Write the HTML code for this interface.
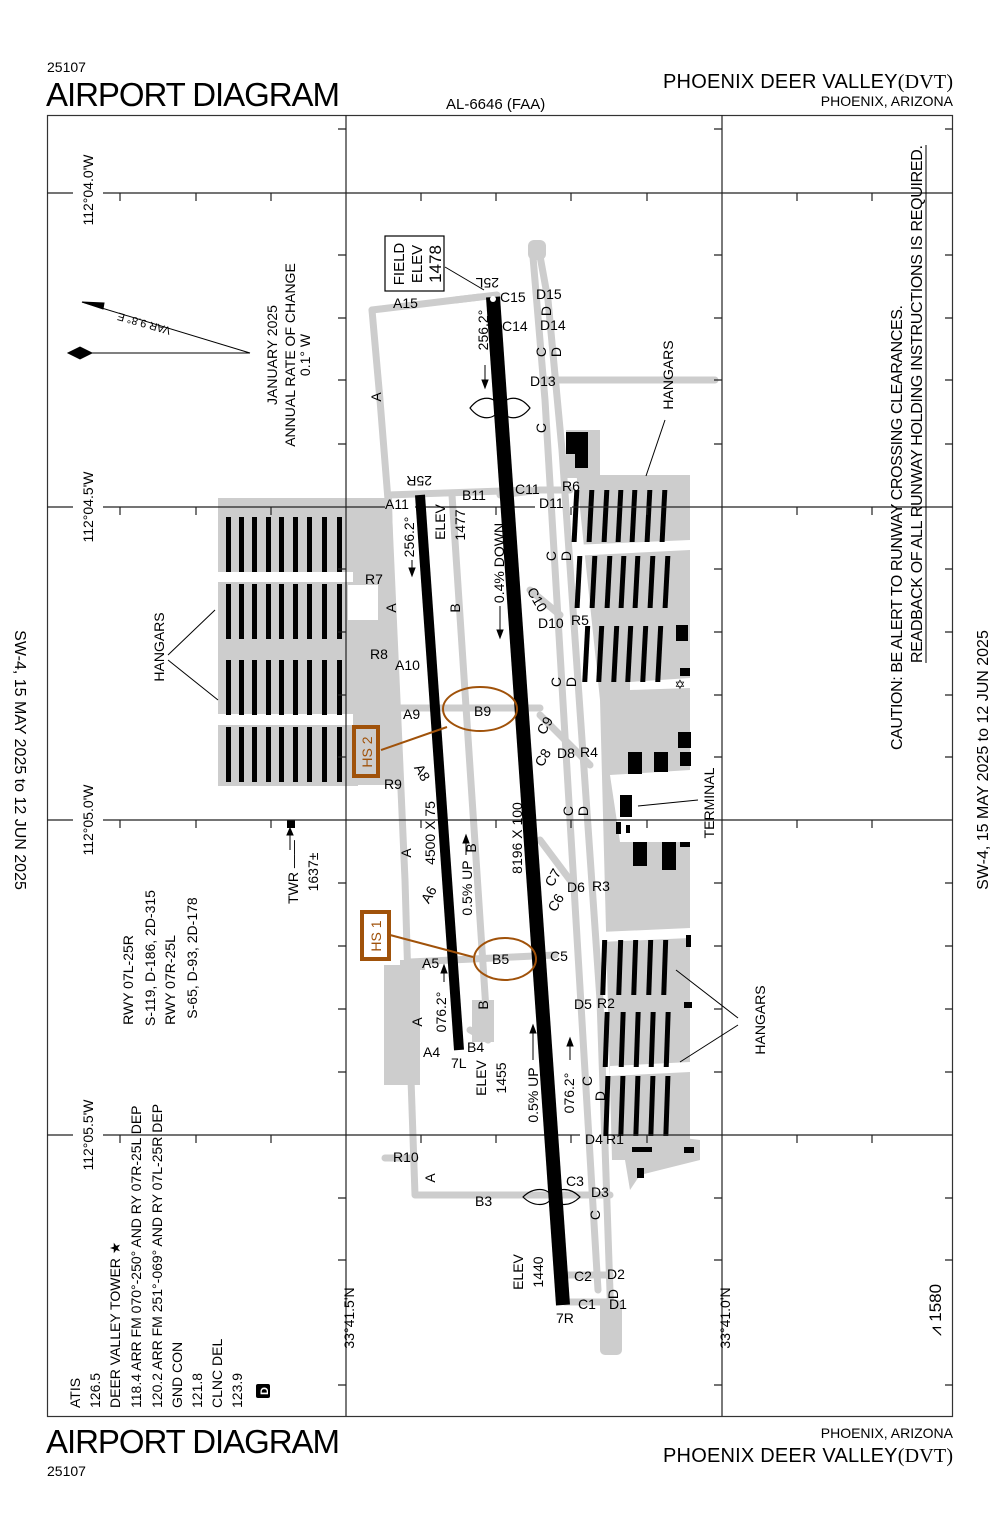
<!DOCTYPE html>
<html><head><meta charset="utf-8"><style>
html,body{margin:0;padding:0;background:#fff}
svg{display:block}
text{font-family:"Liberation Sans",sans-serif;fill:#000}
</style></head><body>
<svg width="1000" height="1533" viewBox="0 0 1000 1533" xmlns="http://www.w3.org/2000/svg">
<!-- headers -->
<text x="47" y="72" font-size="14">25107</text>
<text x="46" y="106" font-size="33" textLength="294">AIRPORT DIAGRAM</text>
<text x="446" y="109" font-size="15">AL-6646 (FAA)</text>
<text x="953" y="88" font-size="20" text-anchor="end" textLength="290">PHOENIX DEER VALLEY<tspan font-family="Liberation Serif">(DVT)</tspan></text>
<text x="953" y="106" font-size="14" text-anchor="end">PHOENIX, ARIZONA</text>
<text x="46" y="1453" font-size="33" textLength="294">AIRPORT DIAGRAM</text>
<text x="47" y="1476" font-size="14">25107</text>
<text x="953" y="1438" font-size="14" text-anchor="end">PHOENIX, ARIZONA</text>
<text x="953" y="1462" font-size="20" text-anchor="end" textLength="290">PHOENIX DEER VALLEY<tspan font-family="Liberation Serif">(DVT)</tspan></text>
<text transform="translate(15,760) rotate(90)" font-size="16" text-anchor="middle">SW-4,  15 MAY 2025  to  12 JUN 2025</text>
<text transform="translate(988,760) rotate(-90)" font-size="16" text-anchor="middle">SW-4,  15 MAY 2025  to  12 JUN 2025</text>

<!-- frame -->
<rect x="47.5" y="115.5" width="905" height="1301" fill="none" stroke="#333" stroke-width="1.2"/>

<!-- gray pavement -->
<g fill="#cdcdcd">
 <rect x="218" y="498" width="140" height="288"/>
 <path d="M345 498 L392 498 L398 785 L345 785Z"/>
 <path d="M572 432 L600 432 L600 475 L690 475 L690 1160 L612 1160 L600 700 Z"/>
 <rect x="566" y="430" width="34" height="48"/>
 <path d="M620 1130 L700 1140 L700 1160 L640 1175 L630 1190Z"/>
 <rect x="384" y="965" width="36" height="120"/>
 <rect x="400" y="960" width="25" height="10"/>
</g>
<g fill="#fff">
 <rect x="218" y="572" width="135" height="10"/>
 <rect x="218" y="714" width="135" height="11"/>
 <rect x="348" y="585" width="30" height="35"/>
 <path d="M572 545 L690 540 L690 550 L572 556Z"/>
 <path d="M630 682 L690 678 L690 688 L630 690Z"/>
 <path d="M610 775 L690 770 L690 842 L620 842Z"/>
 <path d="M600 932 L690 928 L690 938 L600 942Z"/>
 <path d="M610 1066 L690 1062 L690 1072 L610 1076Z"/>
</g>
<g stroke="#cdcdcd" stroke-width="7" fill="none" stroke-linecap="round" stroke-linejoin="round">
 <path d="M372 310 L380 400 L388 500 L397 700 L405 880 L410 1050 L415 1195 L552 1195"/>
 <path d="M372 310 L480 297"/>
 <path d="M455 300 L497 295"/>
 <path d="M452 495 L488 1040"/>
 <path d="M388 495 L530 490"/>
 <path d="M532 245 L545 400 L598 1290"/>
 <path d="M538 245 L548 300 L562 450 L600 1000 L612 1350"/>
 <path d="M545 380 L715 380"/>
 <path d="M397 708 L540 708"/>
 <path d="M410 962 L555 955"/>
 <path d="M560 1195 L610 1195"/>
 <path d="M565 1275 L610 1275"/>
 <path d="M565 1302 L610 1302"/>
 <path d="M385 1158 L415 1158"/>
 <path d="M540 715 L590 765"/>
 <path d="M540 840 L570 880"/>
 <path d="M530 590 L560 615"/>
 <path d="M500 495 L540 490 L570 490"/>
 <path d="M470 1030 L488 1040"/>
</g>
<rect x="600" y="1300" width="22" height="55" rx="5" fill="#cdcdcd"/>
<rect x="528" y="240" width="18" height="20" rx="6" fill="#cdcdcd"/>
<rect x="472" y="1000" width="22" height="42" fill="#cdcdcd"/>

<!-- hangar bars -->
<g fill="#000">
 <g id="lrow">
  <rect x="226" y="517" width="5" height="55"/><rect x="239" y="517" width="5" height="55"/><rect x="252" y="517" width="5" height="55"/><rect x="266" y="517" width="5" height="55"/><rect x="279" y="517" width="5" height="55"/><rect x="293" y="517" width="5" height="55"/><rect x="307" y="517" width="5" height="55"/><rect x="322" y="517" width="5" height="55"/><rect x="337" y="517" width="5" height="55"/>
 </g>
 <use href="#lrow" y="67"/><use href="#lrow" y="143"/><use href="#lrow" y="210"/>
 <g id="rrow" transform="skewX(-3)">
  <rect x="600" y="490" width="5" height="52"/><rect x="615" y="490" width="5" height="52"/><rect x="630" y="490" width="5" height="52"/><rect x="644" y="490" width="5" height="52"/><rect x="658" y="490" width="5" height="52"/><rect x="673" y="490" width="5" height="52"/><rect x="688" y="490" width="5" height="52"/>
 </g>
 <use href="#rrow" x="3" y="66"/>
 <g transform="skewX(-3)">
  <rect x="618" y="626" width="5" height="56"/><rect x="632" y="626" width="5" height="56"/><rect x="647" y="626" width="5" height="56"/><rect x="661" y="626" width="5" height="56"/><rect x="676" y="626" width="5" height="56"/><rect x="691" y="626" width="5" height="56"/>
 </g>
 <g transform="skewX(-2)">
  <rect x="635" y="940" width="5" height="55"/><rect x="651" y="940" width="5" height="55"/><rect x="666" y="940" width="5" height="55"/><rect x="681" y="940" width="5" height="55"/><rect x="696" y="940" width="5" height="55"/>
  <rect x="640" y="1012" width="5" height="55"/><rect x="656" y="1012" width="5" height="55"/><rect x="671" y="1012" width="5" height="55"/><rect x="686" y="1012" width="5" height="55"/><rect x="701" y="1012" width="5" height="55"/>
  <rect x="643" y="1076" width="5" height="60"/><rect x="658" y="1076" width="5" height="60"/><rect x="673" y="1076" width="5" height="60"/><rect x="688" y="1076" width="5" height="60"/><rect x="703" y="1076" width="5" height="60"/>
 </g>
 <rect x="566" y="432" width="13" height="22"/><rect x="575" y="432" width="13" height="36"/>
 <rect x="676" y="625" width="12" height="16"/><rect x="680" y="668" width="10" height="8"/>
 <rect x="678" y="732" width="13" height="16"/><rect x="680" y="752" width="11" height="14"/>
 <rect x="628" y="752" width="14" height="22"/><rect x="654" y="752" width="14" height="20"/>
 <rect x="620" y="795" width="12" height="22"/><rect x="616" y="822" width="5" height="12"/><rect x="626" y="825" width="4" height="8"/>
 <rect x="633" y="842" width="14" height="24"/><rect x="662" y="842" width="14" height="28"/><rect x="680" y="842" width="10" height="5"/>
 <rect x="686" y="935" width="5" height="12"/><rect x="684" y="1002" width="8" height="6"/>
 <rect x="632" y="1147" width="20" height="5"/><rect x="684" y="1147" width="10" height="6"/><rect x="637" y="1168" width="7" height="10"/>
 <rect x="287" y="820" width="8" height="8"/>
</g>
<text x="680" y="689" font-size="13" text-anchor="middle">✡</text>

<!-- grid lines -->
<g stroke="#222" stroke-width="1.2" fill="none">
 <line x1="346" y1="115" x2="346" y2="1416"/>
 <line x1="722" y1="115" x2="722" y2="1416"/>
 <line x1="47" y1="193" x2="73" y2="193"/><line x1="103" y1="193" x2="953" y2="193"/>
 <line x1="47" y1="507" x2="73" y2="507"/><line x1="103" y1="507" x2="385" y2="507"/><line x1="415" y1="507" x2="535" y2="507"/><line x1="572" y1="507" x2="953" y2="507"/>
 <line x1="47" y1="820" x2="73" y2="820"/><line x1="103" y1="820" x2="953" y2="820"/>
 <line x1="47" y1="1135" x2="73" y2="1135"/><line x1="103" y1="1135" x2="580" y2="1135"/><line x1="608" y1="1135" x2="953" y2="1135"/>
</g>
<g stroke="#222" stroke-width="1.2">
 <path d="M120 193v8M196 193v8M271 193v8M421 193v8M496 193v8M571 193v8M647 193v8M797 193v8M872 193v8
 M120 507v8M196 507v8M271 507v8M421 507v8M496 507v8M571 507v8M647 507v8M797 507v8M872 507v8
 M120 820v8M196 820v8M271 820v8M421 820v8M496 820v8M571 820v8M647 820v8M797 820v8M872 820v8
 M120 1135v8M196 1135v8M271 1135v8M421 1135v8M496 1135v8M571 1135v8M647 1135v8M797 1135v8M872 1135v8"/>
 <path d="M338 129h8M338 255h8M338 318h8M338 380h8M338 444h8M338 569h8M338 632h8M338 695h8M338 757h8M338 883h8M338 946h8M338 1009h8M338 1072h8M338 1198h8M338 1260h8M338 1385h8
 M714 129h8M714 255h8M714 318h8M714 380h8M714 444h8M714 569h8M714 632h8M714 695h8M714 757h8M714 883h8M714 946h8M714 1009h8M714 1072h8M714 1198h8M714 1260h8M714 1385h8
 M945 129h8M945 255h8M945 318h8M945 380h8M945 444h8M945 569h8M945 632h8M945 695h8M945 757h8M945 883h8M945 946h8M945 1009h8M945 1072h8M945 1198h8M945 1260h8M945 1385h8"/>
</g>

<!-- runways -->
<line x1="493" y1="297" x2="563" y2="1305" stroke="#000" stroke-width="14"/>
<line x1="420" y1="495" x2="459" y2="1050" stroke="#000" stroke-width="10"/>
<circle cx="493" cy="299" r="3" fill="#fff"/>

<!-- hot spots -->
<g stroke="#a0520a" fill="none" stroke-width="2">
 <ellipse cx="480" cy="709" rx="37" ry="22"/>
 <ellipse cx="505" cy="959" rx="31" ry="21"/>
 <line x1="381" y1="750" x2="447" y2="727"/>
 <line x1="390" y1="935" x2="473" y2="957"/>
 <rect x="354" y="727" width="24" height="49" stroke-width="4"/>
 <rect x="362" y="912" width="27" height="47" stroke-width="4"/>
</g>
<text transform="translate(372,752) rotate(-90)" font-size="14" text-anchor="middle" style="fill:#a0520a">HS 2</text>
<text transform="translate(381,936) rotate(-90)" font-size="14" text-anchor="middle" style="fill:#a0520a">HS 1</text>

<!-- bowties -->
<g fill="none" stroke="#000" stroke-width="1.2">
 <path d="M470 408 C480 395 495 395 500 408 C505 421 520 421 530 408 C520 395 505 395 500 408 C495 421 480 421 470 408Z"/>
 <path d="M523 1197 C533 1187 548 1187 552 1197 C557 1207 570 1207 580 1197 C570 1187 557 1187 552 1197 C548 1207 533 1207 523 1197Z"/>
</g>

<!-- field elev box -->
<rect x="385" y="236" width="59" height="55" fill="#fff" stroke="#000" stroke-width="1.2"/>
<text transform="translate(404,264) rotate(-90)" font-size="15" text-anchor="middle">FIELD</text>
<text transform="translate(422,264) rotate(-90)" font-size="15" text-anchor="middle">ELEV</text>
<text transform="translate(441,264) rotate(-90)" font-size="17" text-anchor="middle">1478</text>
<line x1="445" y1="267" x2="484" y2="290" stroke="#000"/>

<g font-size="14">
 <text x="393" y="308">A15</text>
 <text x="500" y="302">C15</text><text x="536" y="299">D15</text>
 <text x="502" y="331">C14</text><text x="540" y="330">D14</text>
 <text x="530" y="386">D13</text>
 <text x="385" y="509">A11</text><text x="462" y="500">B11</text><text x="515" y="494">C11</text><text x="562" y="491">R6</text><text x="539" y="508">D11</text>
 <text x="365" y="584">R7</text><text x="370" y="659">R8</text><text x="395" y="670">A10</text>
 <text x="403" y="719">A9</text><text x="474" y="716">B9</text>
 <text x="538" y="628">D10</text><text x="571" y="625">R5</text>
 <text x="557" y="758">D8</text><text x="580" y="757">R4</text>
 <text x="384" y="789">R9</text>
 <text x="567" y="892">D6</text><text x="592" y="891">R3</text>
 <text x="422" y="968">A5</text><text x="492" y="964">B5</text><text x="550" y="961">C5</text>
 <text x="574" y="1009">D5</text><text x="597" y="1008">R2</text>
 <text x="423" y="1057">A4</text><text x="467" y="1052">B4</text><text x="451" y="1068">7L</text>
 <text x="585" y="1144">D4</text><text x="606" y="1144">R1</text>
 <text x="393" y="1162">R10</text>
 <text x="475" y="1206">B3</text><text x="566" y="1186">C3</text><text x="591" y="1197">D3</text>
 <text x="574" y="1281">C2</text><text x="607" y="1279">D2</text>
 <text x="578" y="1309">C1</text><text x="609" y="1309">D1</text>
 <text x="556" y="1323">7R</text>
</g>
<text transform="translate(499,278) rotate(180)" font-size="14">25L</text>
<text transform="translate(432,476) rotate(180)" font-size="14">25R</text>

<g font-size="14" text-anchor="middle">
 <text transform="translate(381,397) rotate(-90)">A</text>
 <text transform="translate(396,608) rotate(-90)">A</text>
 <text transform="translate(411,853) rotate(-90)">A</text>
 <text transform="translate(422,1022) rotate(-90)">A</text>
 <text transform="translate(435,1178) rotate(-90)">A</text>
 <text transform="translate(460,608) rotate(-90)">B</text>
 <text transform="translate(476,848) rotate(-90)">B</text>
 <text transform="translate(488,1005) rotate(-90)">B</text>
 <text transform="translate(546,352) rotate(-90)">C</text>
 <text transform="translate(561,352) rotate(-90)">D</text>
 <text transform="translate(551,311) rotate(-90)">D</text>
 <text transform="translate(546,428) rotate(-90)">C</text>
 <text transform="translate(556,556) rotate(-90)">C</text><text transform="translate(571,556) rotate(-90)">D</text>
 <text transform="translate(561,682) rotate(-90)">C</text><text transform="translate(576,682) rotate(-90)">D</text>
 <text transform="translate(573,811) rotate(-90)">C</text><text transform="translate(588,811) rotate(-90)">D</text>
 <text transform="translate(592,1081) rotate(-90)">C</text><text transform="translate(605,1096) rotate(-90)">D</text>
 <text transform="translate(600,1215) rotate(-90)">C</text>
 <text transform="translate(618,1294) rotate(-90)">D</text>
 <text transform="translate(533,602) rotate(60)">C10</text>
 <text transform="translate(549,728) rotate(-60)">C9</text>
 <text transform="translate(547,760) rotate(-60)">C8</text>
 <text transform="translate(557,880) rotate(-60)">C7</text>
 <text transform="translate(560,905) rotate(-60)">C6</text>
 <text transform="translate(418,775) rotate(60)">A8</text>
 <text transform="translate(433,897) rotate(-60)">A6</text>
</g>
<g font-size="14">
 <text transform="translate(488,330) rotate(-90)" text-anchor="middle">256.2°</text>
 <text transform="translate(414,537) rotate(-90)" text-anchor="middle">256.2°</text>
 <text transform="translate(445,522) rotate(-90)" text-anchor="middle">ELEV</text>
 <text transform="translate(465,525) rotate(-90)" text-anchor="middle">1477</text>
 <text transform="translate(504,563) rotate(-90)" text-anchor="middle">0.4% DOWN</text>
 <text transform="translate(435,833) rotate(-90)" text-anchor="middle">4500 X 75</text>
 <text transform="translate(472,888) rotate(-90)" text-anchor="middle">0.5% UP</text>
 <text transform="translate(522,838) rotate(-90)" text-anchor="middle">8196 X 100</text>
 <text transform="translate(446,1012) rotate(-90)" text-anchor="middle">076.2°</text>
 <text transform="translate(486,1078) rotate(-90)" text-anchor="middle">ELEV</text>
 <text transform="translate(506,1078) rotate(-90)" text-anchor="middle">1455</text>
 <text transform="translate(538,1095) rotate(-90)" text-anchor="middle">0.5% UP</text>
 <text transform="translate(574,1093) rotate(-90)" text-anchor="middle">076.2°</text>
 <text transform="translate(523,1272) rotate(-90)" text-anchor="middle">ELEV</text>
 <text transform="translate(543,1272) rotate(-90)" text-anchor="middle">1440</text>
</g>
<g stroke="#000" stroke-width="1" fill="#000">
 <line x1="485" y1="365" x2="485" y2="382"/><path d="M482 380 L485 388 L488 380Z"/>
 <line x1="412" y1="560" x2="412" y2="570"/><path d="M409 568 L412 576 L415 568Z"/>
 <line x1="500" y1="606" x2="500" y2="632"/><path d="M497 630 L500 638 L503 630Z"/>
 <line x1="466" y1="840" x2="466" y2="855"/><path d="M463 843 L466 835 L469 843Z"/>
 <line x1="444" y1="970" x2="444" y2="982"/><path d="M441 973 L444 965 L447 973Z"/>
 <line x1="533" y1="1030" x2="533" y2="1060"/><path d="M530 1033 L533 1025 L536 1033Z"/>
 <line x1="570" y1="1043" x2="570" y2="1060"/><path d="M567 1046 L570 1038 L573 1046Z"/>
 <line x1="290" y1="832" x2="290" y2="850"/><path d="M287 835 L290 828 L293 835Z"/>
</g>
<g stroke="#000" stroke-width="1" fill="none">
 <line x1="665" y1="420" x2="646" y2="476"/>
 <line x1="168" y1="655" x2="215" y2="610"/>
 <line x1="168" y1="660" x2="218" y2="700"/>
 <line x1="698" y1="800" x2="638" y2="806"/>
 <line x1="738" y1="1018" x2="676" y2="970"/>
 <line x1="738" y1="1025" x2="680" y2="1062"/>
</g>
<g font-size="14" text-anchor="middle">
 <text transform="translate(673,375) rotate(-90)">HANGARS</text>
 <text transform="translate(164,647) rotate(-90)">HANGARS</text>
 <text transform="translate(765,1020) rotate(-90)">HANGARS</text>
 <text transform="translate(714,803) rotate(-90)">TERMINAL</text>
 <text transform="translate(298,872) rotate(-90)">TWR ——</text>
 <text transform="translate(318,872) rotate(-90)">1637±</text>
</g>

<!-- compass -->
<g stroke="#000" stroke-width="1" fill="#000">
 <line x1="250" y1="353" x2="80" y2="353"/>
 <path d="M68 353 L80 347 L92 353 L80 359Z"/>
 <line x1="250" y1="353" x2="82" y2="302"/>
 <path d="M82 302 L104 303 L103 309Z"/>
</g>
<text transform="translate(145,320) rotate(196)" font-size="11" text-anchor="middle">VAR 9.8° E</text>
<g font-size="14" text-anchor="middle">
 <text transform="translate(277,355) rotate(-90)">JANUARY 2025</text>
 <text transform="translate(295,355) rotate(-90)">ANNUAL RATE OF CHANGE</text>
 <text transform="translate(310,355) rotate(-90)">0.1° W</text>
</g>

<g font-size="14" text-anchor="middle">
 <text transform="translate(93,190) rotate(-90)">112°04.0'W</text>
 <text transform="translate(93,507) rotate(-90)">112°04.5'W</text>
 <text transform="translate(93,820) rotate(-90)">112°05.0'W</text>
 <text transform="translate(93,1135) rotate(-90)">112°05.5'W</text>
 <text transform="translate(354,1318) rotate(-90)">33°41.5'N</text>
 <text transform="translate(730,1318) rotate(-90)">33°41.0'N</text>
</g>

<g font-size="14" text-anchor="middle">
 <text transform="translate(133,980) rotate(-90)">RWY 07L-25R</text>
 <text transform="translate(155,958) rotate(-90)">S-119, D-186, 2D-315</text>
 <text transform="translate(175,980) rotate(-90)">RWY 07R-25L</text>
 <text transform="translate(197,958) rotate(-90)">S-65, D-93, 2D-178</text>
</g>
<g font-size="14">
 <text transform="translate(80,1408) rotate(-90)">ATIS</text>
 <text transform="translate(100,1408) rotate(-90)">126.5</text>
 <text transform="translate(120,1408) rotate(-90)">DEER VALLEY TOWER ★</text>
 <text transform="translate(141,1408) rotate(-90)">118.4  ARR FM 070°-250° AND RY 07R-25L DEP</text>
 <text transform="translate(162,1408) rotate(-90)">120.2  ARR FM 251°-069° AND RY 07L-25R DEP</text>
 <text transform="translate(182,1408) rotate(-90)">GND CON</text>
 <text transform="translate(202,1408) rotate(-90)">121.8</text>
 <text transform="translate(222,1408) rotate(-90)">CLNC DEL</text>
 <text transform="translate(242,1408) rotate(-90)">123.9</text>
</g>
<rect x="256" y="1384" width="14" height="14" rx="2" fill="#000"/>
<text transform="translate(268,1391) rotate(-90)" font-size="11" text-anchor="middle" style="fill:#fff;font-weight:bold">D</text>

<!-- caution -->
<g font-size="16">
 <text transform="translate(902,750) rotate(-90)" textLength="445">CAUTION: BE ALERT TO RUNWAY CROSSING CLEARANCES.</text>
 <text transform="translate(922,663) rotate(-90)" textLength="518">READBACK OF ALL RUNWAY HOLDING INSTRUCTIONS IS REQUIRED.</text>
</g>
<line x1="926" y1="145" x2="926" y2="663" stroke="#000"/>
<text transform="translate(941,1310) rotate(-90)" font-size="17" text-anchor="middle">⩘ 1580</text>
</svg>
</body></html>
